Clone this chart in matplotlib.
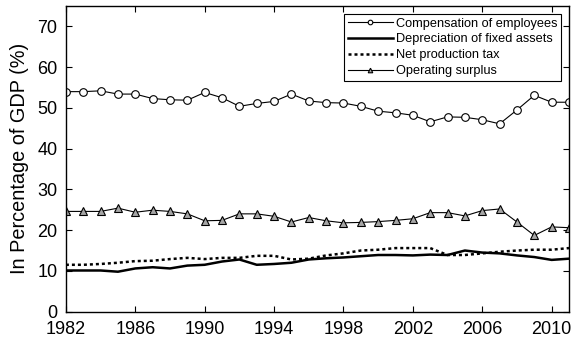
import matplotlib
matplotlib.use("Agg")
import matplotlib.pyplot as plt

plt.rcParams['font.family'] = ['Liberation Sans', 'DejaVu Sans']

# Shares of GDP by income component, 1982-2011 (%)
years = list(range(1982, 2012))

compensation = [54.0, 54.0, 54.2, 53.4, 53.4, 52.3, 52.0, 51.9, 53.8, 52.5,
                50.4, 51.1, 51.6, 53.4, 51.7, 51.3, 51.2, 50.4, 49.2, 48.8,
                48.2, 46.6, 47.8, 47.7, 47.1, 46.1, 49.5, 53.1, 51.4, 51.4]
depreciation = [10.1, 10.1, 10.1, 9.8, 10.6, 10.9, 10.6, 11.3, 11.5, 12.3,
                12.8, 11.5, 11.7, 12.0, 12.8, 13.1, 13.3, 13.6, 13.9, 13.9,
                13.8, 14.0, 13.9, 15.0, 14.5, 14.3, 13.8, 13.4, 12.7, 13.0]
net_tax = [11.5, 11.5, 11.7, 12.0, 12.4, 12.5, 12.9, 13.2, 12.9, 13.2,
           13.2, 13.7, 13.7, 12.8, 13.0, 13.8, 14.3, 15.0, 15.2, 15.6,
           15.6, 15.6, 13.9, 13.9, 14.3, 14.7, 15.0, 15.2, 15.2, 15.6]
surplus = [24.6, 24.6, 24.6, 25.4, 24.4, 24.9, 24.6, 24.0, 22.3, 22.4,
           24.0, 24.0, 23.4, 22.0, 23.1, 22.3, 21.8, 21.9, 22.1, 22.4,
           22.8, 24.3, 24.3, 23.5, 24.8, 25.2, 22.0, 18.7, 20.8, 20.6]

xticks = [1982, 1986, 1990, 1994, 1998, 2002, 2006, 2010]
yticks = [0, 10, 20, 30, 40, 50, 60, 70]


def main():
    fig = plt.figure(figsize=(5.73, 3.38), dpi=100)
    ax = fig.add_axes([0.115, 0.078, 0.878, 0.904])

    ax.plot(years, compensation, color='black', linewidth=0.8, marker='o',
            markersize=5.5, markerfacecolor='white', markeredgecolor='black',
            markeredgewidth=0.8, label='Compensation of employees')
    ax.plot(years, depreciation, color='black', linewidth=1.8,
            label='Depreciation of fixed assets')
    ax.plot(years, net_tax, color='black', linewidth=1.8, linestyle=(0, (1.2, 1.2)),
            label='Net production tax')
    ax.plot(years, surplus, color='black', linewidth=0.8, marker='^',
            markersize=5.5, markerfacecolor='0.65', markeredgecolor='black',
            markeredgewidth=0.8, label='Operating surplus')

    ax.set_xlim(1982, 2011)
    ax.set_ylim(0, 75)
    ax.set_xticks(xticks)
    ax.set_yticks(yticks)
    ax.tick_params(direction='in', top=True, right=True, labelsize=13,
                   length=4, width=0.8)
    ax.tick_params(axis='x', pad=6.5)
    ax.tick_params(axis='y', pad=6)
    for spine in ax.spines.values():
        spine.set_linewidth(1.0)
    ax.set_ylabel('In Percentage of GDP (%)', fontsize=14.3, labelpad=6)

    leg = ax.legend(loc='upper right', fontsize=9.2, frameon=True, fancybox=False,
                    edgecolor='black', framealpha=1, numpoints=1,
                    handlelength=3.5, handletextpad=0.25, labelspacing=0.3,
                    borderpad=0.3, borderaxespad=0.6, markerscale=0.6)
    leg.get_frame().set_linewidth(0.8)

    fig.savefig('out.png', dpi=100)
    plt.close(fig)


if __name__ == "__main__":
    main()
